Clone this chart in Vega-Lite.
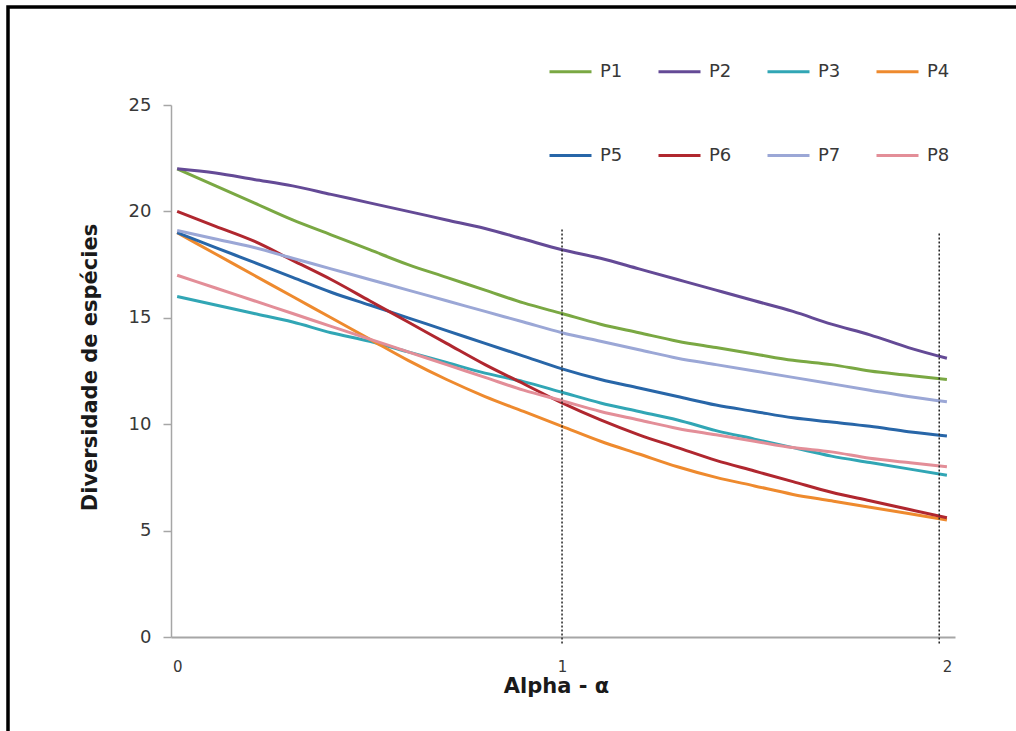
{
  "$schema": "https://vega.github.io/schema/vega-lite/v6.json",
  "width": 1008,
  "height": 724,
  "autosize": {"type": "none"},
  "padding": {"left": 8, "top": 7, "right": 0, "bottom": 0},
  "background": "white",
  "config": {
    "font": "DejaVu Sans",
    "view": {"stroke": "#000000", "strokeWidth": 3.5, "strokeDash": [1008, 1732, 724], "strokeCap": "square"}
  },
  "datasets": {
    "curvas": [
      {"alpha": 0.0, "diversidade": 22.0, "parcela": "P1"}, {"alpha": 0.1, "diversidade": 21.2, "parcela": "P1"}, {"alpha": 0.2, "diversidade": 20.4, "parcela": "P1"}, {"alpha": 0.3, "diversidade": 19.6, "parcela": "P1"}, {"alpha": 0.4, "diversidade": 18.9, "parcela": "P1"}, {"alpha": 0.5, "diversidade": 18.2, "parcela": "P1"}, {"alpha": 0.6, "diversidade": 17.5, "parcela": "P1"}, {"alpha": 0.7, "diversidade": 16.9, "parcela": "P1"}, {"alpha": 0.8, "diversidade": 16.3, "parcela": "P1"}, {"alpha": 0.9, "diversidade": 15.7, "parcela": "P1"}, {"alpha": 1.0, "diversidade": 15.2, "parcela": "P1"}, {"alpha": 1.1, "diversidade": 14.7, "parcela": "P1"}, {"alpha": 1.2, "diversidade": 14.3, "parcela": "P1"}, {"alpha": 1.3, "diversidade": 13.9, "parcela": "P1"}, {"alpha": 1.4, "diversidade": 13.6, "parcela": "P1"}, {"alpha": 1.5, "diversidade": 13.3, "parcela": "P1"}, {"alpha": 1.6, "diversidade": 13.0, "parcela": "P1"}, {"alpha": 1.7, "diversidade": 12.8, "parcela": "P1"}, {"alpha": 1.8, "diversidade": 12.5, "parcela": "P1"}, {"alpha": 1.9, "diversidade": 12.3, "parcela": "P1"}, {"alpha": 2.0, "diversidade": 12.1, "parcela": "P1"},
      {"alpha": 0.0, "diversidade": 22.0, "parcela": "P2"}, {"alpha": 0.1, "diversidade": 21.8, "parcela": "P2"}, {"alpha": 0.2, "diversidade": 21.5, "parcela": "P2"}, {"alpha": 0.3, "diversidade": 21.2, "parcela": "P2"}, {"alpha": 0.4, "diversidade": 20.8, "parcela": "P2"}, {"alpha": 0.5, "diversidade": 20.4, "parcela": "P2"}, {"alpha": 0.6, "diversidade": 20.0, "parcela": "P2"}, {"alpha": 0.7, "diversidade": 19.6, "parcela": "P2"}, {"alpha": 0.8, "diversidade": 19.2, "parcela": "P2"}, {"alpha": 0.9, "diversidade": 18.7, "parcela": "P2"}, {"alpha": 1.0, "diversidade": 18.2, "parcela": "P2"}, {"alpha": 1.1, "diversidade": 17.8, "parcela": "P2"}, {"alpha": 1.2, "diversidade": 17.3, "parcela": "P2"}, {"alpha": 1.3, "diversidade": 16.8, "parcela": "P2"}, {"alpha": 1.4, "diversidade": 16.3, "parcela": "P2"}, {"alpha": 1.5, "diversidade": 15.8, "parcela": "P2"}, {"alpha": 1.6, "diversidade": 15.3, "parcela": "P2"}, {"alpha": 1.7, "diversidade": 14.7, "parcela": "P2"}, {"alpha": 1.8, "diversidade": 14.2, "parcela": "P2"}, {"alpha": 1.9, "diversidade": 13.6, "parcela": "P2"}, {"alpha": 2.0, "diversidade": 13.1, "parcela": "P2"},
      {"alpha": 0.0, "diversidade": 16.0, "parcela": "P3"}, {"alpha": 0.1, "diversidade": 15.6, "parcela": "P3"}, {"alpha": 0.2, "diversidade": 15.2, "parcela": "P3"}, {"alpha": 0.3, "diversidade": 14.8, "parcela": "P3"}, {"alpha": 0.4, "diversidade": 14.3, "parcela": "P3"}, {"alpha": 0.5, "diversidade": 13.9, "parcela": "P3"}, {"alpha": 0.6, "diversidade": 13.4, "parcela": "P3"}, {"alpha": 0.7, "diversidade": 12.9, "parcela": "P3"}, {"alpha": 0.8, "diversidade": 12.4, "parcela": "P3"}, {"alpha": 0.9, "diversidade": 12.0, "parcela": "P3"}, {"alpha": 1.0, "diversidade": 11.5, "parcela": "P3"}, {"alpha": 1.1, "diversidade": 11.0, "parcela": "P3"}, {"alpha": 1.2, "diversidade": 10.6, "parcela": "P3"}, {"alpha": 1.3, "diversidade": 10.2, "parcela": "P3"}, {"alpha": 1.4, "diversidade": 9.7, "parcela": "P3"}, {"alpha": 1.5, "diversidade": 9.3, "parcela": "P3"}, {"alpha": 1.6, "diversidade": 8.9, "parcela": "P3"}, {"alpha": 1.7, "diversidade": 8.5, "parcela": "P3"}, {"alpha": 1.8, "diversidade": 8.2, "parcela": "P3"}, {"alpha": 1.9, "diversidade": 7.9, "parcela": "P3"}, {"alpha": 2.0, "diversidade": 7.6, "parcela": "P3"},
      {"alpha": 0.0, "diversidade": 19.0, "parcela": "P4"}, {"alpha": 0.1, "diversidade": 18.0, "parcela": "P4"}, {"alpha": 0.2, "diversidade": 17.0, "parcela": "P4"}, {"alpha": 0.3, "diversidade": 16.0, "parcela": "P4"}, {"alpha": 0.4, "diversidade": 15.0, "parcela": "P4"}, {"alpha": 0.5, "diversidade": 14.0, "parcela": "P4"}, {"alpha": 0.6, "diversidade": 13.0, "parcela": "P4"}, {"alpha": 0.7, "diversidade": 12.1, "parcela": "P4"}, {"alpha": 0.8, "diversidade": 11.3, "parcela": "P4"}, {"alpha": 0.9, "diversidade": 10.6, "parcela": "P4"}, {"alpha": 1.0, "diversidade": 9.9, "parcela": "P4"}, {"alpha": 1.1, "diversidade": 9.2, "parcela": "P4"}, {"alpha": 1.2, "diversidade": 8.6, "parcela": "P4"}, {"alpha": 1.3, "diversidade": 8.0, "parcela": "P4"}, {"alpha": 1.4, "diversidade": 7.5, "parcela": "P4"}, {"alpha": 1.5, "diversidade": 7.1, "parcela": "P4"}, {"alpha": 1.6, "diversidade": 6.7, "parcela": "P4"}, {"alpha": 1.7, "diversidade": 6.4, "parcela": "P4"}, {"alpha": 1.8, "diversidade": 6.1, "parcela": "P4"}, {"alpha": 1.9, "diversidade": 5.8, "parcela": "P4"}, {"alpha": 2.0, "diversidade": 5.5, "parcela": "P4"},
      {"alpha": 0.0, "diversidade": 19.0, "parcela": "P5"}, {"alpha": 0.1, "diversidade": 18.3, "parcela": "P5"}, {"alpha": 0.2, "diversidade": 17.6, "parcela": "P5"}, {"alpha": 0.3, "diversidade": 16.9, "parcela": "P5"}, {"alpha": 0.4, "diversidade": 16.2, "parcela": "P5"}, {"alpha": 0.5, "diversidade": 15.6, "parcela": "P5"}, {"alpha": 0.6, "diversidade": 15.0, "parcela": "P5"}, {"alpha": 0.7, "diversidade": 14.4, "parcela": "P5"}, {"alpha": 0.8, "diversidade": 13.8, "parcela": "P5"}, {"alpha": 0.9, "diversidade": 13.2, "parcela": "P5"}, {"alpha": 1.0, "diversidade": 12.6, "parcela": "P5"}, {"alpha": 1.1, "diversidade": 12.1, "parcela": "P5"}, {"alpha": 1.2, "diversidade": 11.7, "parcela": "P5"}, {"alpha": 1.3, "diversidade": 11.3, "parcela": "P5"}, {"alpha": 1.4, "diversidade": 10.9, "parcela": "P5"}, {"alpha": 1.5, "diversidade": 10.6, "parcela": "P5"}, {"alpha": 1.6, "diversidade": 10.3, "parcela": "P5"}, {"alpha": 1.7, "diversidade": 10.1, "parcela": "P5"}, {"alpha": 1.8, "diversidade": 9.9, "parcela": "P5"}, {"alpha": 1.9, "diversidade": 9.65, "parcela": "P5"}, {"alpha": 2.0, "diversidade": 9.45, "parcela": "P5"},
      {"alpha": 0.0, "diversidade": 20.0, "parcela": "P6"}, {"alpha": 0.1, "diversidade": 19.3, "parcela": "P6"}, {"alpha": 0.2, "diversidade": 18.6, "parcela": "P6"}, {"alpha": 0.3, "diversidade": 17.7, "parcela": "P6"}, {"alpha": 0.4, "diversidade": 16.8, "parcela": "P6"}, {"alpha": 0.5, "diversidade": 15.8, "parcela": "P6"}, {"alpha": 0.6, "diversidade": 14.8, "parcela": "P6"}, {"alpha": 0.7, "diversidade": 13.8, "parcela": "P6"}, {"alpha": 0.8, "diversidade": 12.8, "parcela": "P6"}, {"alpha": 0.9, "diversidade": 11.9, "parcela": "P6"}, {"alpha": 1.0, "diversidade": 11.0, "parcela": "P6"}, {"alpha": 1.1, "diversidade": 10.2, "parcela": "P6"}, {"alpha": 1.2, "diversidade": 9.5, "parcela": "P6"}, {"alpha": 1.3, "diversidade": 8.9, "parcela": "P6"}, {"alpha": 1.4, "diversidade": 8.3, "parcela": "P6"}, {"alpha": 1.5, "diversidade": 7.8, "parcela": "P6"}, {"alpha": 1.6, "diversidade": 7.3, "parcela": "P6"}, {"alpha": 1.7, "diversidade": 6.8, "parcela": "P6"}, {"alpha": 1.8, "diversidade": 6.4, "parcela": "P6"}, {"alpha": 1.9, "diversidade": 6.0, "parcela": "P6"}, {"alpha": 2.0, "diversidade": 5.6, "parcela": "P6"},
      {"alpha": 0.0, "diversidade": 19.1, "parcela": "P7"}, {"alpha": 0.1, "diversidade": 18.7, "parcela": "P7"}, {"alpha": 0.2, "diversidade": 18.3, "parcela": "P7"}, {"alpha": 0.3, "diversidade": 17.8, "parcela": "P7"}, {"alpha": 0.4, "diversidade": 17.3, "parcela": "P7"}, {"alpha": 0.5, "diversidade": 16.8, "parcela": "P7"}, {"alpha": 0.6, "diversidade": 16.3, "parcela": "P7"}, {"alpha": 0.7, "diversidade": 15.8, "parcela": "P7"}, {"alpha": 0.8, "diversidade": 15.3, "parcela": "P7"}, {"alpha": 0.9, "diversidade": 14.8, "parcela": "P7"}, {"alpha": 1.0, "diversidade": 14.3, "parcela": "P7"}, {"alpha": 1.1, "diversidade": 13.9, "parcela": "P7"}, {"alpha": 1.2, "diversidade": 13.5, "parcela": "P7"}, {"alpha": 1.3, "diversidade": 13.1, "parcela": "P7"}, {"alpha": 1.4, "diversidade": 12.8, "parcela": "P7"}, {"alpha": 1.5, "diversidade": 12.5, "parcela": "P7"}, {"alpha": 1.6, "diversidade": 12.2, "parcela": "P7"}, {"alpha": 1.7, "diversidade": 11.9, "parcela": "P7"}, {"alpha": 1.8, "diversidade": 11.6, "parcela": "P7"}, {"alpha": 1.9, "diversidade": 11.3, "parcela": "P7"}, {"alpha": 2.0, "diversidade": 11.05, "parcela": "P7"},
      {"alpha": 0.0, "diversidade": 17.0, "parcela": "P8"}, {"alpha": 0.1, "diversidade": 16.4, "parcela": "P8"}, {"alpha": 0.2, "diversidade": 15.8, "parcela": "P8"}, {"alpha": 0.3, "diversidade": 15.2, "parcela": "P8"}, {"alpha": 0.4, "diversidade": 14.6, "parcela": "P8"}, {"alpha": 0.5, "diversidade": 14.0, "parcela": "P8"}, {"alpha": 0.6, "diversidade": 13.4, "parcela": "P8"}, {"alpha": 0.7, "diversidade": 12.8, "parcela": "P8"}, {"alpha": 0.8, "diversidade": 12.2, "parcela": "P8"}, {"alpha": 0.9, "diversidade": 11.6, "parcela": "P8"}, {"alpha": 1.0, "diversidade": 11.1, "parcela": "P8"}, {"alpha": 1.1, "diversidade": 10.6, "parcela": "P8"}, {"alpha": 1.2, "diversidade": 10.2, "parcela": "P8"}, {"alpha": 1.3, "diversidade": 9.8, "parcela": "P8"}, {"alpha": 1.4, "diversidade": 9.5, "parcela": "P8"}, {"alpha": 1.5, "diversidade": 9.2, "parcela": "P8"}, {"alpha": 1.6, "diversidade": 8.9, "parcela": "P8"}, {"alpha": 1.7, "diversidade": 8.7, "parcela": "P8"}, {"alpha": 1.8, "diversidade": 8.4, "parcela": "P8"}, {"alpha": 1.9, "diversidade": 8.2, "parcela": "P8"}, {"alpha": 2.0, "diversidade": 8.0, "parcela": "P8"}
    ],
    "marcadores": [
      {"alpha": 1.0, "base": -0.3, "topo": 19.2},
      {"alpha": 1.98, "base": -0.3, "topo": 19.0}
    ]
  },
  "layer": [
    {
      "data": {"name": "curvas"},
      "mark": {"type": "line", "strokeWidth": 3, "interpolate": "monotone", "clip": false},
      "encoding": {
        "x": {
          "field": "alpha", "type": "quantitative", "title": "Alpha - α",
          "scale": {"domain": [-0.016, 2.021], "range": [163, 947], "nice": false, "zero": false},
          "axis": {
            "values": [0, 1, 2], "labelExpr": "format(datum.value, 'd')", "grid": false, "offset": -94,
            "domainColor": "#a6a6a6", "domainWidth": 2, "ticks": false,
            "labelOverlap": false, "labelBound": false, "labelFlush": false,
            "labelFontSize": 15, "labelColor": "#383838", "labelPadding": 22,
            "titleFontSize": 21, "titleFontWeight": "bold", "titleColor": "#1a1a1a",
            "titleX": 548, "titleY": 38
          }
        },
        "y": {
          "field": "diversidade", "type": "quantitative", "title": "Diversidade de espécies",
          "scale": {"domain": [0, 25], "range": [630, 98], "nice": false, "zero": false},
          "axis": {
            "values": [0, 5, 10, 15, 20, 25], "grid": false, "offset": -163,
            "domainColor": "#a6a6a6", "domainWidth": 1.5, "tickColor": "#a6a6a6", "tickSize": 8, "tickWidth": 1.5,
            "labelOverlap": false, "labelFontSize": 18, "labelColor": "#383838", "labelPadding": 12,
            "titleFontSize": 21, "titleFontWeight": "bold", "titleColor": "#1a1a1a",
            "titleX": -81, "titleY": 360, "titleBaseline": "middle"
          }
        },
        "color": {
          "field": "parcela", "type": "nominal",
          "scale": {
            "domain": ["P1", "P2", "P3", "P4", "P5", "P6", "P7", "P8"],
            "range": ["#7aa843", "#644a96", "#31a6b5", "#ee8a2e", "#2866a8", "#b0272f", "#9ba7d6", "#e38e98"]
          },
          "legend": {
            "orient": "none", "legendX": 540, "legendY": 42, "direction": "horizontal", "columns": 4,
            "title": null, "padding": 0, "symbolType": "stroke", "symbolSize": 1764, "symbolStrokeWidth": 3,
            "labelFontSize": 18, "labelColor": "#383838", "labelOffset": 7,
            "columnPadding": 29, "rowPadding": 52
          }
        }
      }
    },
    {
      "data": {"name": "marcadores"},
      "mark": {"type": "rule", "strokeDash": [2, 2], "strokeWidth": 1.5, "color": "#222222", "clip": false},
      "encoding": {
        "x": {"field": "alpha", "type": "quantitative", "title": "Alpha - α"},
        "y": {"field": "base", "type": "quantitative", "title": "Diversidade de espécies"},
        "y2": {"field": "topo"}
      }
    }
  ]
}
